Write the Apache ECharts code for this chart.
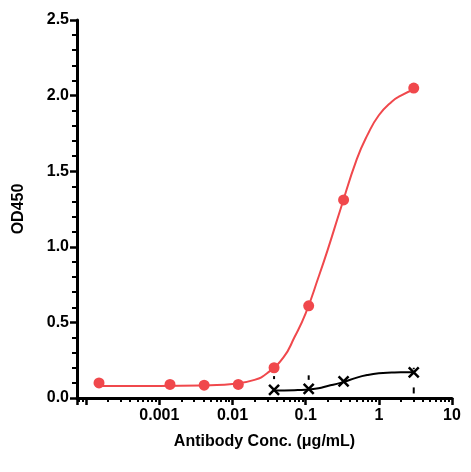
<!DOCTYPE html><html><head><meta charset="utf-8"><script src="https://cdn.jsdelivr.net/npm/echarts@6/dist/echarts.min.js"></script></head><body style="margin:0"><div id="c" style="width:471px;height:472px"></div><script>
const conc = [0.00015, 0.0014, 0.0041, 0.012, 0.037, 0.11, 0.33, 3];
const redVals = [0.10, 0.09, 0.085, 0.09, 0.20, 0.61, 1.31, 2.05];
const redFitX = [0.00015, 0.001, 0.005, 0.01, 0.02, 0.03, 0.05, 0.07, 0.1, 0.15, 0.2, 0.3, 0.5, 0.7, 1, 1.5, 2, 3];
const redFitY = [0.08, 0.08, 0.085, 0.092, 0.12, 0.165, 0.27, 0.40, 0.56, 0.80, 0.98, 1.25, 1.58, 1.74, 1.87, 1.96, 2.00, 2.04];
const blkX = [0.037, 0.11, 0.33, 3];
const blkVals = [0.053, 0.06, 0.11, 0.17];
const blkFitX = [0.037, 0.07, 0.1, 0.15, 0.2, 0.3, 0.5, 0.7, 1, 1.5, 2, 3];
const blkFitY = [0.05, 0.052, 0.055, 0.065, 0.08, 0.10, 0.135, 0.152, 0.163, 0.168, 0.17, 0.17];
const errBars = [[0.037, 0.125, 0.145], [0.11, 0.12, 0.15], [3, 0.03, 0.07], [3, 0.19, 0.2]];
const z = (a, b) => a.map((v, i) => [v, b[i]]);
const ch = echarts.init(document.getElementById('c'));
const ax = {show:true,lineStyle:{color:'#000',width:3}};
const lab = {fontFamily:'Liberation Sans',fontWeight:'bold',fontSize:16,color:'#000'};
ch.setOption({
  animation:false,
  grid:{left:77,right:19,top:20,bottom:74},
  xAxis:{type:'log',logBase:10,min:0.000075,max:10,name:'Antibody Conc. (μg/mL)',nameLocation:'middle',nameGap:36,
    nameTextStyle:{...lab},
    axisLine:ax,axisTick:{show:true,inside:false,length:7,lineStyle:{width:2.5,color:'#000'}},
    minorTick:{show:true,splitNumber:9,length:4,lineStyle:{width:2,color:'#000'}},
    splitLine:{show:false},
    axisLabel:{...lab,margin:10,formatter:v=>v<0.0009?'':String(+v.toPrecision(1))}},
  yAxis:{type:'value',min:0,max:2.5,interval:0.5,name:'OD450',nameLocation:'middle',nameGap:50,
    nameTextStyle:{...lab},
    axisLine:ax,axisTick:{show:true,length:7,lineStyle:{width:2.5,color:'#000'}},
    minorTick:{show:true,splitNumber:5,length:5,lineStyle:{width:2,color:'#000'}},
    splitLine:{show:false},
    axisLabel:{...lab,formatter:v=>v.toFixed(1)}},
  series:[
    {type:'line',data:z(redFitX,redFitY),smooth:true,showSymbol:false,lineStyle:{color:'#f0484c',width:2},z:2},
    {type:'scatter',data:z(conc,redVals),symbolSize:11,itemStyle:{color:'#f0484c',opacity:1},z:3},
    {type:'line',data:z(blkFitX,blkFitY),smooth:true,showSymbol:false,lineStyle:{color:'#000',width:2},z:2},
    {type:'scatter',data:z(blkX,blkVals),symbol:'path://M0,0L10,10M10,0L0,10',symbolSize:10,
      itemStyle:{color:'none',borderColor:'#000',borderWidth:2.5,opacity:1},z:3},
    {type:'custom',data:errBars,z:3,renderItem:(p,api)=>{
      const a=api.coord([api.value(0),api.value(1)]),b=api.coord([api.value(0),api.value(2)]);
      return {type:'line',shape:{x1:a[0],y1:a[1],x2:b[0],y2:b[1]},style:{stroke:'#000',lineWidth:2}};}}
  ]
});
</script></body></html>
